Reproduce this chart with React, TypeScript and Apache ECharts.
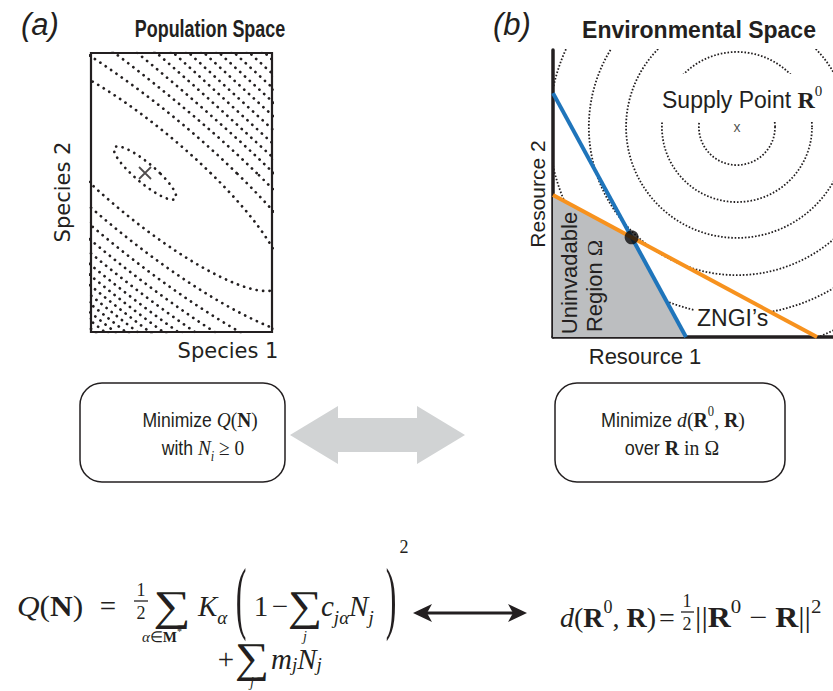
import React, { useEffect, useRef } from "react";
import * as echarts from "echarts";

const INK = "#231f20";
const SANS = "'Liberation Sans', Arial, Helvetica, sans-serif";
const SERIF = "'Liberation Serif', 'Times New Roman', serif";
const DEJA = "'DejaVu Sans', Verdana, sans-serif";

// ---------- Panel (a): contours of Q(N) in population space ----------
const speciesMinimum = [0.195, 0.574]; // the "x" marker, minimum of Q
const resourceWeightsK = [1, 1]; // K_alpha
const consumptionRates = [
  // c_{j alpha}: one row per resource alpha, one column per species j
  [0.93926, 0.68118],
  [0.50818, 1.04315],
];
const maintenanceCosts = [0.55352, 0.60526]; // m_j
const contourLevelsQ = [
  0.5933, 0.6236, 0.654, 0.6843, 0.7146, 0.7449, 0.7752, 0.8055, 0.8358, 0.8661,
  0.8964, 0.9268, 0.9571, 0.9874, 1.0177, 1.048,
];
const speciesAxisMax = [0.6534, 1.0072];

// ---------- Panel (b): environmental space ----------
const supplyPoint = [0.657, 0.75];
const distanceRadii = [0.136, 0.268, 0.396, 0.529, 0.671, 0.804];
const zngiBlue = [
  [0, 0.871],
  [0.475, 0],
];
const zngiOrange = [
  [0, 0.507],
  [0.943, 0],
];

function Q(x: number, y: number) {
  let q = 0;
  for (let a = 0; a < consumptionRates.length; a++) {
    const r = 1 - consumptionRates[a][0] * x - consumptionRates[a][1] * y;
    if (r > 0) q += 0.5 * resourceWeightsK[a] * r * r;
  }
  return q + maintenanceCosts[0] * x + maintenanceCosts[1] * y;
}

function traceContour(level: number) {
  const [x0, y0] = speciesMinimum;
  const pts: number[][] = [];
  const n = 1800;
  for (let i = 0; i <= n; i++) {
    const th = (i / n) * Math.PI * 2;
    const dx = Math.cos(th);
    const dy = Math.sin(th);
    let lo = 0;
    let hi = 3;
    if (Q(x0 + hi * dx, y0 + hi * dy) < level) {
      pts.push([x0 + hi * dx, y0 + hi * dy]);
      continue;
    }
    for (let k = 0; k < 40; k++) {
      const mid = (lo + hi) / 2;
      if (Q(x0 + mid * dx, y0 + mid * dy) < level) lo = mid;
      else hi = mid;
    }
    pts.push([x0 + lo * dx, y0 + lo * dy]);
  }
  return pts;
}

function circlePoints(c: number[], r: number) {
  const pts: number[][] = [];
  const n = 360;
  for (let i = 0; i <= n; i++) {
    const th = (i / n) * Math.PI * 2;
    pts.push([c[0] + r * Math.cos(th), c[1] + r * Math.sin(th)]);
  }
  return pts;
}

function intersect(a: number[][], b: number[][]) {
  const [p1, p2] = a;
  const [p3, p4] = b;
  const d = (p1[0] - p2[0]) * (p3[1] - p4[1]) - (p1[1] - p2[1]) * (p3[0] - p4[0]);
  const t = ((p1[0] - p3[0]) * (p3[1] - p4[1]) - (p1[1] - p3[1]) * (p3[0] - p4[0])) / d;
  return [p1[0] + t * (p2[0] - p1[0]), p1[1] + t * (p2[1] - p1[1])];
}

function makeRich(fs: number, sansFs: number, lhFactor = 1.4) {
  const lh = Math.round(fs * lhFactor);
  const sub = Math.round(fs * 0.64);
  return {
    s: { fontFamily: SANS, fontSize: sansFs, fill: INK, lineHeight: lh },
    i: { fontFamily: SERIF, fontStyle: "italic", fontSize: fs, fill: INK, lineHeight: lh },
    r: { fontFamily: SERIF, fontSize: fs, fill: INK, lineHeight: lh },
    b: { fontFamily: SERIF, fontWeight: "bold", fontSize: fs, fill: INK, lineHeight: lh },
    sub: { fontFamily: SERIF, fontStyle: "italic", fontSize: sub, fill: INK, verticalAlign: "bottom" },
    sup: { fontFamily: SERIF, fontSize: sub, fill: INK, verticalAlign: "top" },
  };
}

type TOpts = {
  align?: string;
  valign?: string;
  size?: number;
  family?: string;
  fstyle?: string;
  weight?: string;
  rich?: any;
  rotation?: number;
  z?: number;
  bg?: string;
  padding?: number[];
  scaleX?: number;
  scaleY?: number;
};

function T(x: number, y: number, text: string, o: TOpts = {}) {
  const align = o.align ?? "left";
  const valign = o.valign ?? "middle";
  const style: any = {
    text,
    fill: INK,
    fontSize: o.size ?? 20,
    fontFamily: o.family ?? SANS,
    fontStyle: o.fstyle ?? "normal",
    fontWeight: o.weight ?? "normal",
    align,
    verticalAlign: valign,
    textAlign: align,
    textVerticalAlign: valign,
  };
  if (o.rich) style.rich = o.rich;
  if (o.bg) style.backgroundColor = o.bg;
  if (o.padding) style.padding = o.padding;
  return {
    type: "text",
    x,
    y,
    rotation: o.rotation ?? 0,
    scaleX: o.scaleX ?? 1,
    scaleY: o.scaleY ?? 1,
    z: o.z ?? 10,
    silent: true,
    style,
  };
}

function hline(x1: number, x2: number, y: number, w = 1.3) {
  return { type: "line", z: 10, silent: true, shape: { x1, y1: y, x2, y2: y }, style: { stroke: INK, lineWidth: w } };
}

function buildOption() {
  const series: any[] = [];

  contourLevelsQ.forEach((lv) => {
    series.push({
      type: "line",
      xAxisIndex: 0,
      yAxisIndex: 0,
      data: traceContour(lv),
      symbol: "none",
      showSymbol: false,
      silent: true,
      clip: true,
      z: 2,
      lineStyle: { color: INK, width: 2.7, type: [0.1, 6.4], cap: "round" },
    });
  });
  series.push({
    type: "scatter",
    xAxisIndex: 0,
    yAxisIndex: 0,
    data: [speciesMinimum],
    symbol: "path://M0,0L10,10M10,0L0,10",
    symbolSize: 12,
    silent: true,
    z: 3,
    itemStyle: { color: "rgba(0,0,0,0)", borderColor: INK, borderWidth: 1.8 },
  });

  distanceRadii.forEach((r) => {
    series.push({
      type: "line",
      xAxisIndex: 1,
      yAxisIndex: 1,
      data: circlePoints(supplyPoint, r),
      symbol: "none",
      showSymbol: false,
      silent: true,
      clip: true,
      z: 1,
      lineStyle: { color: INK, width: 1.8, type: [1.6, 1.8] },
    });
  });

  const cross = intersect(zngiBlue, zngiOrange);
  series.push({
    type: "line",
    xAxisIndex: 1,
    yAxisIndex: 1,
    data: [zngiOrange[0], cross, zngiBlue[1]],
    symbol: "none",
    silent: true,
    z: 3,
    lineStyle: { width: 0 },
    areaStyle: { color: "#bcbec0", opacity: 1 },
  });
  [
    { d: zngiBlue, c: "#1f75bb" },
    { d: zngiOrange, c: "#f7921e" },
  ].forEach((l) => {
    series.push({
      type: "line",
      xAxisIndex: 1,
      yAxisIndex: 1,
      data: l.d,
      symbol: "none",
      silent: true,
      z: 4,
      lineStyle: { color: l.c, width: 4 },
    });
  });
  series.push({
    type: "scatter",
    xAxisIndex: 1,
    yAxisIndex: 1,
    data: [cross],
    symbolSize: 14,
    silent: true,
    z: 5,
    itemStyle: { color: "#0d0d0d" },
  });
  series.push({
    type: "scatter",
    xAxisIndex: 1,
    yAxisIndex: 1,
    data: [supplyPoint],
    symbolSize: 1,
    silent: true,
    z: 6,
    itemStyle: { color: "rgba(0,0,0,0)" },
    label: { show: true, position: "inside", formatter: "x", fontSize: 14, fontFamily: SANS, color: INK },
  });

  const rich29 = makeRich(29, 29);
  const rich29t = makeRich(29, 29, 1.0);
  const richMid = makeRich(22, 20);
  const richSm = makeRich(15, 15);

  const g: any[] = [];
  // titles
  g.push(T(21, 24, "(a)", { size: 31, fstyle: "italic" }));
  g.push(T(210, 29, "Population Space", { size: 23, weight: "bold", align: "center", scaleX: 0.78 }));
  g.push(T(493, 24, "(b)", { size: 31, fstyle: "italic" }));
  g.push(T(699, 30, "Environmental Space", { size: 23, weight: "bold", align: "center" }));
  // axis names
  g.push(T(63, 192, "Species 2", { size: 21, family: DEJA, align: "center", rotation: Math.PI / 2 }));
  g.push(T(228, 351, "Species 1", { size: 21, family: DEJA, align: "center" }));
  g.push(T(537, 194, "Resource 2", { size: 21, align: "center", rotation: Math.PI / 2 }));
  g.push(T(645, 356, "Resource 1", { size: 22, align: "center" }));
  // annotations in panel b
  g.push(
    T(655, 98, "{s|Supply Point }{b|R}{sup|0}", {
      rich: makeRich(24, 23),
      z: 8,
      bg: "#ffffff",
      padding: [9, 4, 5, 7],
    })
  );
  g.push(T(695, 318, "ZNGI\u2019s", { size: 23, z: 2, bg: "#ffffff", padding: [1, 2, 1, 2] }));
  g.push(T(569, 273, "Uninvadable", { size: 22, align: "center", rotation: Math.PI / 2 }));
  g.push(
    T(594, 286, "{s|Region }{r|\u03a9}", {
      align: "center",
      rotation: Math.PI / 2,
      rich: makeRich(22, 22),
    })
  );

  // middle boxes
  g.push({
    type: "rect",
    z: 9,
    silent: true,
    shape: { x: 80, y: 383, width: 205, height: 99, r: 22 },
    style: { fill: "#fff", stroke: INK, lineWidth: 1.5 },
  });
  g.push({
    type: "rect",
    z: 9,
    silent: true,
    shape: { x: 555, y: 383, width: 230, height: 99, r: 22 },
    style: { fill: "#fff", stroke: INK, lineWidth: 1.5 },
  });
  g.push(T(200, 420, "{s|Minimize }{i|Q}{r|(}{b|N}{r|)}", { align: "center", rich: richMid, scaleX: 0.88 }));
  g.push(T(203, 448, "{s|with }{i|N}{sub|i}{r| \u2265 0}", { align: "center", rich: richMid, scaleX: 0.88 }));
  g.push(
    T(673, 420, "{s|Minimize }{i|d}{r|(}{b|R}{sup|0}{r|, }{b|R}{r|)}", { align: "center", rich: richMid, scaleX: 0.9 })
  );
  g.push(T(672, 448, "{s|over }{b|R}{r| in \u03a9}", { align: "center", rich: richMid, scaleX: 0.9 }));

  // grey double arrow
  {
    const x0 = 290,
      x1 = 465,
      cy = 435,
      hh = 29,
      sh = 17,
      hl = 48;
    g.push({
      type: "polygon",
      z: 9,
      silent: true,
      shape: {
        points: [
          [x0, cy],
          [x0 + hl, cy - hh],
          [x0 + hl, cy - sh],
          [x1 - hl, cy - sh],
          [x1 - hl, cy - hh],
          [x1, cy],
          [x1 - hl, cy + hh],
          [x1 - hl, cy + sh],
          [x0 + hl, cy + sh],
          [x0 + hl, cy + hh],
        ],
      },
      style: { fill: "#d1d3d4" },
    });
  }

  // bottom formula: Q(N)
  const cy = 606;
  g.push(T(17, cy, "{i|Q}{r|(}{b|N}{r|)}", { rich: rich29, scaleX: 1.08 }));
  g.push(T(108, cy, "=", { family: SERIF, size: 29, align: "center" }));
  g.push(T(141, cy - 16, "1", { family: SERIF, size: 18, align: "center" }));
  g.push(hline(134, 148, cy - 5));
  g.push(T(141, cy + 7, "2", { family: SERIF, size: 18, align: "center" }));
  g.push(T(172, cy, "\u2211", { family: SERIF, size: 42, align: "center", scaleX: 1.25 }));
  g.push(T(162, cy + 31, "{i|\u03b1}{r|\u2208}{b|M}{sup|*}", { align: "center", rich: richSm }));
  g.push(T(198, cy, "{i|K}{sub|\u03b1}", { rich: rich29 }));
  g.push(T(241, cy - 9, "(", { family: SERIF, size: 32, align: "center", scaleY: 2.5 }));
  g.push(T(261, cy, "1", { family: SERIF, size: 29, align: "center" }));
  g.push(T(280, cy, "\u2212", { family: SERIF, size: 29, align: "center" }));
  g.push(T(305, cy, "\u2211", { family: SERIF, size: 42, align: "center", scaleX: 1.15 }));
  g.push(T(305, cy + 30, "j", { family: SERIF, fstyle: "italic", size: 14, align: "center" }));
  g.push(T(321, cy, "{i|c}{sub|j\u03b1}{i|N}{sub|j}", { rich: rich29 }));
  g.push(T(391, cy - 9, ")", { family: SERIF, size: 32, align: "center", scaleY: 2.5 }));
  g.push(T(404, cy - 59, "2", { family: SERIF, size: 18, align: "center" }));
  const cy2 = 659;
  g.push(T(226, cy2, "+", { family: SERIF, size: 29, align: "center" }));
  g.push(T(252, cy2 - 1, "\u2211", { family: SERIF, size: 42, align: "center", scaleX: 1.15 }));
  g.push(T(252, cy2 + 23, "j", { family: SERIF, fstyle: "italic", size: 14, align: "center" }));
  g.push(T(271, cy2, "{i|m}{sub|j}{i|N}{sub|j}", { rich: rich29t }));

  // black double arrow
  {
    const x0 = 413,
      x1 = 527,
      y = 613;
    g.push({ type: "line", z: 10, silent: true, shape: { x1: x0 + 8, y1: y, x2: x1 - 8, y2: y }, style: { stroke: INK, lineWidth: 3 } });
    g.push({
      type: "polygon",
      z: 10,
      silent: true,
      shape: { points: [[x0, y], [x0 + 19, y - 9], [x0 + 14, y], [x0 + 19, y + 9]] },
      style: { fill: INK },
    });
    g.push({
      type: "polygon",
      z: 10,
      silent: true,
      shape: { points: [[x1, y], [x1 - 19, y - 9], [x1 - 14, y], [x1 - 19, y + 9]] },
      style: { fill: INK },
    });
  }

  // bottom formula: d(R0, R)
  const cy3 = 617;
  g.push(T(560, cy3, "{i|d}{r|(}{b|R}{sup|0}{r|, }{b|R}{r|)}", { rich: makeRich(28, 28) }));
  g.push(T(667, cy3, "=", { family: SERIF, size: 28, align: "center" }));
  g.push(T(687, cy3 - 16, "1", { family: SERIF, size: 18, align: "center" }));
  g.push(hline(681, 694, cy3 - 5));
  g.push(T(687, cy3 + 7, "2", { family: SERIF, size: 18, align: "center" }));
  g.push(
    T(695, cy3, "{r|||}{b|R}{sup|0}{r| \u2212 }{b|R}{r|||}{sup|2}", { rich: rich29, scaleX: 1.1 })
  );

  return {
    animation: false,
    backgroundColor: "#ffffff",
    grid: [
      { left: 91, top: 53, width: 181, height: 279, show: true, borderColor: INK, borderWidth: 2.2, backgroundColor: "rgba(0,0,0,0)" },
      { left: 553, top: 50, width: 280, height: 287, show: false },
    ],
    xAxis: [
      { gridIndex: 0, type: "value", min: 0, max: speciesAxisMax[0], show: false },
      {
        gridIndex: 1,
        type: "value",
        min: 0,
        max: 1,
        axisLine: { show: true, onZero: false, lineStyle: { color: INK, width: 3.5 } },
        axisTick: { show: false },
        axisLabel: { show: false },
        splitLine: { show: false },
      },
    ],
    yAxis: [
      { gridIndex: 0, type: "value", min: 0, max: speciesAxisMax[1], show: false },
      {
        gridIndex: 1,
        type: "value",
        min: 0,
        max: 287 / 280,
        axisLine: { show: true, onZero: false, lineStyle: { color: INK, width: 3.5 } },
        axisTick: { show: false },
        axisLabel: { show: false },
        splitLine: { show: false },
      },
    ],
    series,
    graphic: { elements: g },
  };
}

export default function App() {
  const ref = useRef<HTMLDivElement>(null);
  useEffect(() => {
    document.body.style.margin = "0";
    const chart = echarts.init(ref.current as HTMLDivElement, undefined, { renderer: "svg" });
    chart.setOption(buildOption() as any);
    return () => chart.dispose();
  }, []);
  return <div ref={ref} style={{ width: 833, height: 691, background: "#fff" }} />;
}
